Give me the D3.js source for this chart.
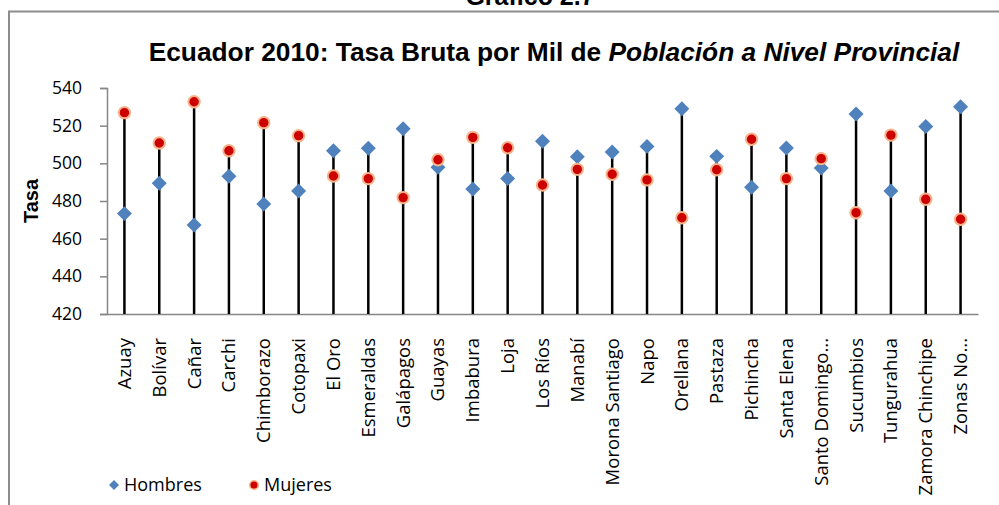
<!DOCTYPE html>
<html>
<head>
<meta charset="utf-8">
<title>Ecuador 2010</title>
<script src="https://cdn.jsdelivr.net/npm/d3@7"></script>
<style>
  body { margin: 0; background: #fff; }
  svg { display: block; }
</style>
</head>
<body>
<svg id="chart" width="999" height="505"></svg>
<script>
// provinces on the x axis
var provincias = ["Azuay", "Bolívar", "Cañar", "Carchi", "Chimborazo", "Cotopaxi", "El Oro",
  "Esmeraldas", "Galápagos", "Guayas", "Imbabura", "Loja", "Los Ríos", "Manabí",
  "Morona Santiago", "Napo", "Orellana", "Pastaza", "Pichincha", "Santa Elena",
  "Santo Domingo...", "Sucumbios", "Tungurahua", "Zamora Chinchipe", "Zonas No..."];

// tasa bruta por mil
var hombres = [473.3, 489.4, 467.3, 493.1, 478.4, 485.3, 506.7, 508.0, 518.4, 497.9, 486.4, 491.9,
  511.7, 503.5, 506.0, 509.0, 529.0, 503.7, 487.3, 508.1, 497.5, 526.2, 485.3, 519.5, 530.1];
var mujeres = [526.9, 510.8, 532.7, 506.7, 521.6, 514.7, 493.3, 491.9, 481.8, 501.9, 513.8, 508.3,
  488.5, 496.8, 494.2, 491.2, 471.1, 496.6, 512.8, 491.9, 502.5, 473.8, 515.0, 480.9, 470.3];

var yTicks = [420, 440, 460, 480, 500, 520, 540];

var svg = d3.select("#chart");
var labelFont = "'Open Sans', 'Noto Sans', sans-serif";

// outer frame of the chart object
svg.append("rect")
  .attr("x", 9).attr("y", 11.5)
  .attr("width", 1100).attr("height", 600)
  .attr("fill", "none")
  .attr("stroke", "#8c8c8c")
  .attr("stroke-width", 2);

// caption, cut by the top edge like in the source
svg.append("text")
  .attr("x", 530).attr("y", 5)
  .attr("text-anchor", "middle")
  .attr("font-family", "'Liberation Sans', Arial, sans-serif")
  .attr("font-weight", "bold")
  .attr("font-size", 25)
  .text("Gráfico 2.7");

var title = svg.append("text")
  .attr("x", 554).attr("y", 61)
  .attr("text-anchor", "middle")
  .attr("font-family", "'Liberation Sans', Arial, sans-serif")
  .attr("font-weight", "bold")
  .attr("font-size", 26.3);
title.append("tspan").text("Ecuador 2010: Tasa Bruta por Mil de ");
title.append("tspan").attr("font-style", "italic").text("Población a Nivel Provincial");

var x = d3.scaleBand().domain(provincias).range([107, 978]);
var y = d3.scaleLinear().domain([420, 540]).range([314, 88]);

// y axis
var yAxis = svg.append("g")
  .attr("transform", "translate(107,0)")
  .call(d3.axisLeft(y).tickValues(yTicks).tickSize(7).tickPadding(18));
yAxis.selectAll("line, path").attr("stroke", "#868686").attr("stroke-width", 1.5);
yAxis.selectAll("text")
  .attr("font-family", labelFont)
  .attr("font-size", 17.5)
  .attr("fill", "#000");

// x axis line + rotated names
var xAxis = svg.append("g")
  .attr("transform", "translate(0,314)")
  .call(d3.axisBottom(x).tickSize(0).tickPadding(0));
xAxis.select("path").attr("stroke", "#868686").attr("stroke-width", 1.5);
xAxis.selectAll("text")
  .attr("font-family", labelFont)
  .attr("font-size", 18.5)
  .attr("fill", "#000")
  .attr("text-anchor", "end")
  .attr("y", 0)
  .attr("dy", "0.35em")
  .attr("transform", "translate(0,24) rotate(-90)");

svg.append("text")
  .attr("transform", "translate(38,201) rotate(-90)")
  .attr("text-anchor", "middle")
  .attr("font-family", "'Liberation Sans', Arial, sans-serif")
  .attr("font-weight", "bold")
  .attr("font-size", 20)
  .text("Tasa");

var cx = function(i) { return x(provincias[i]) + x.bandwidth() / 2; };

// drop lines from the axis up to the higher marker
svg.append("g").selectAll("line")
  .data(provincias)
  .join("line")
  .attr("x1", function(d, i) { return cx(i); })
  .attr("x2", function(d, i) { return cx(i); })
  .attr("y1", y(420))
  .attr("y2", function(d, i) { return y(Math.max(hombres[i], mujeres[i])); })
  .attr("stroke", "#000")
  .attr("stroke-width", 2.5);

var diamond = d3.symbol().type(d3.symbolSquare).size(112);

svg.append("g").selectAll("path")
  .data(hombres)
  .join("path")
  .attr("d", diamond)
  .attr("transform", function(d, i) { return "translate(" + cx(i) + "," + y(d) + ") rotate(45)"; })
  .attr("fill", "#4f81bd");

svg.append("g").selectAll("circle")
  .data(mujeres)
  .join("circle")
  .attr("cx", function(d, i) { return cx(i); })
  .attr("cy", function(d) { return y(d); })
  .attr("r", 5.7)
  .attr("fill", "#cc0000")
  .attr("stroke", "#f7b48c")
  .attr("stroke-width", 2);

// legend
var legend = svg.append("g").attr("font-family", labelFont).attr("font-size", 18);
legend.append("path")
  .attr("d", d3.symbol().type(d3.symbolSquare).size(50))
  .attr("transform", "translate(114,485) rotate(45)")
  .attr("fill", "#4f81bd");
legend.append("text").attr("x", 124).attr("y", 491).text("Hombres");
legend.append("circle")
  .attr("cx", 254).attr("cy", 485).attr("r", 4.3)
  .attr("fill", "#cc0000").attr("stroke", "#f7b48c").attr("stroke-width", 1.5);
legend.append("text").attr("x", 264).attr("y", 491).text("Mujeres");
</script>
</body>
</html>
